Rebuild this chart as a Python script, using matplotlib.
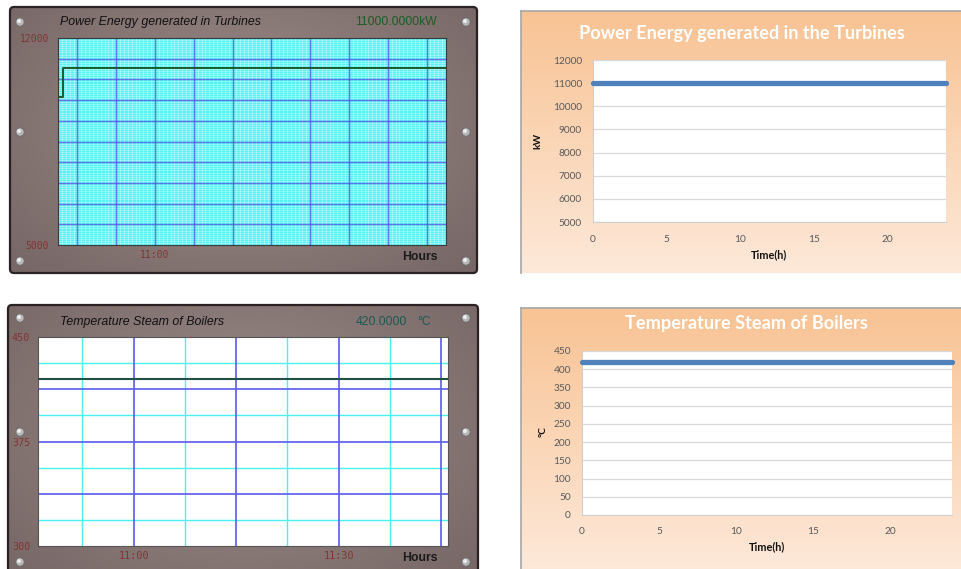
import numpy as np
import matplotlib
matplotlib.use("Agg")
import matplotlib.pyplot as plt
from matplotlib.patches import FancyBboxPatch, Circle

W, H = 962, 569

# Turbine power recorder (x = minutes after 10:00)
power_minutes = [47.5, 48.2, 97.5]
power_kw = [10000, 11000, 11000]

# Boiler steam temperature recorder (x = minutes after 10:00)
steam_minutes = [46.0, 106.0]
steam_c = [420, 420]

# Daily trend charts
trend_hours = [0, 24]
trend_power_kw = [11000, 11000]
trend_steam_c = [420, 420]

power_yticks = [5000, 12000]
power_xticks = [60]
power_xlabels = ["11:00"]
steam_yticks = [300, 375, 450]
steam_xticks = [60, 90]
steam_xlabels = ["11:00", "11:30"]
trend_xticks = [0, 5, 10, 15, 20]
trend_power_yticks = list(range(5000, 12001, 1000))
trend_steam_yticks = list(range(0, 451, 50))

fig = plt.figure(figsize=(W / 100, H / 100), dpi=100)
fig.patch.set_facecolor("white")

bg = fig.add_axes([0, 0, 1, 1], zorder=0)
bg.set_xlim(0, W)
bg.set_ylim(H, 0)
bg.axis("off")


def px_axes(x0, y0, x1, y1):
    return fig.add_axes([x0 / W, 1 - y1 / H, (x1 - x0) / W, (y1 - y0) / H], zorder=2)


def monitor_frame(x0, y0, x1, y1):
    patch = FancyBboxPatch((x0, y0), x1 - x0, y1 - y0,
                           boxstyle="round,pad=0,rounding_size=4",
                           fc="none", ec="#2a2222", lw=1.6, zorder=3)
    bg.add_patch(patch)
    yy, xx = np.mgrid[0:1:120j, 0:1:200j]
    r = np.clip(np.sqrt(((xx - 0.5) / 0.65) ** 2 + ((yy - 0.45) / 0.75) ** 2), 0, 1)
    c_in = np.array([0.615, 0.55, 0.54])
    c_out = np.array([0.47, 0.41, 0.405])
    rgb = c_in[None, None, :] * (1 - r[..., None]) + c_out[None, None, :] * r[..., None]
    im = bg.imshow(rgb, extent=(x0, x1, y1, y0), zorder=1,
                   interpolation="bilinear", aspect="auto")
    im.set_clip_path(patch)


def screw(x, y):
    bg.add_patch(Circle((x, y), 4.2, fc="#b8b8b8", ec="#6a6a6a", lw=0.6, zorder=4))
    bg.add_patch(Circle((x - 1.0, y - 1.0), 2.0, fc="#ececec", ec="none", zorder=5))


def trend_panel(x0, y0, x1, y1):
    grad = np.linspace(0, 1, 100)[:, None]
    c_top = np.array([0.973, 0.765, 0.580])
    c_bot = np.array([0.992, 0.910, 0.850])
    rgb = c_top[None, None, :] * (1 - grad[..., None]) + c_bot[None, None, :] * grad[..., None]
    rgb = np.repeat(rgb, 2, axis=1)
    bg.imshow(rgb, extent=(x0, x1, y1, y0), zorder=1,
              interpolation="bilinear", aspect="auto")
    bg.plot([x0, x0], [y1, y0], color="#a6a6a6", lw=1.2, zorder=2)
    bg.plot([x0, x1], [y0, y0], color="#a6a6a6", lw=1.2, zorder=2)


# ---------- recorder frames ----------
monitor_frame(10, 7, 477, 273)
monitor_frame(8, 305, 478, 580)
trend_panel(521, 11, W, 273)
trend_panel(521, 308, W, H)
bg.set_xlim(0, W)
bg.set_ylim(H, 0)

for sx in (20, 466):
    for sy in (22, 132, 261, 318, 432, 562):
        screw(sx, sy)

mono = "DejaVu Sans Mono"
tick_red = "#823434"

# ---------- turbine power recorder ----------
ax1 = px_axes(58, 38, 446, 245)
ax1.set_facecolor("#58f0f0")
ax1.set_xlim(47.5, 97.5)
ax1.set_ylim(5000, 12000)
for xv in np.arange(47.5, 97.6, 0.5):
    ax1.axvline(xv, color="#c6ffff", lw=0.5, alpha=0.7, zorder=1)
for yv in np.arange(5000, 12001, 70):
    ax1.axhline(yv, color="#c6ffff", lw=0.5, alpha=0.7, zorder=1)
for xv in range(50, 96, 5):
    ax1.axvline(xv, color="#5555e6", lw=1.0, alpha=0.8, zorder=2)
for yv in range(5700, 11301, 700):
    ax1.axhline(yv, color="#5555e6", lw=1.0, alpha=0.8, zorder=2)
ax1.plot(power_minutes, power_kw, drawstyle="steps-post", color="#1d5a2c", lw=1.4, zorder=3)
ax1.set_yticks(power_yticks)
ax1.set_yticklabels([str(v) for v in power_yticks])
ax1.set_xticks(power_xticks)
ax1.set_xticklabels(power_xlabels)
ax1.tick_params(length=0, colors=tick_red, labelsize=7)
ax1.tick_params(axis="y", pad=6.5)
ax1.tick_params(axis="x", pad=3.5)
for lab in ax1.get_xticklabels() + ax1.get_yticklabels():
    lab.set_family(mono)
for sp in ax1.spines.values():
    sp.set_color("#3a3a3a")
    sp.set_linewidth(0.8)

bg.text(60, 22, "Power Energy generated in Turbines", fontsize=8.9, style="italic",
        family="Liberation Sans", color="#111111", ha="left", va="center", zorder=6)
bg.text(437, 22, f"{power_kw[-1]:.4f}kW", fontsize=8.7, family="Liberation Sans",
        color="#1e5c22", ha="right", va="center", zorder=6)
bg.text(420, 257, "Hours", fontsize=8.8, fontweight="bold", family="Liberation Sans",
        color="#1a1a1a", ha="center", va="center", zorder=6)

# ---------- steam temperature recorder ----------
ax3 = px_axes(38, 337, 448, 546)
ax3.set_facecolor("white")
ax3.set_xlim(46, 106)
ax3.set_ylim(300, 450)
for xv in (52.5, 67.5, 82.5, 97.5):
    ax3.axvline(xv, color="#48f2f2", lw=1.0, zorder=1)
for xv in (60, 75, 90, 105):
    ax3.axvline(xv, color="#5a5af0", lw=1.2, zorder=2)
for yv in (318.75, 356.25, 393.75, 431.25):
    ax3.axhline(yv, color="#48f2f2", lw=1.0, zorder=1)
for yv in (337.5, 375, 412.5):
    ax3.axhline(yv, color="#5a5af0", lw=1.2, zorder=2)
ax3.plot(steam_minutes, steam_c, color="#1f4f45", lw=1.5, zorder=3)
ax3.set_yticks(steam_yticks)
ax3.set_yticklabels([str(v) for v in steam_yticks])
ax3.set_xticks(steam_xticks)
ax3.set_xticklabels(steam_xlabels)
ax3.tick_params(length=0, colors=tick_red, labelsize=7.3)
ax3.tick_params(axis="y", pad=5.5)
ax3.tick_params(axis="x", pad=3.5)
for lab in ax3.get_xticklabels() + ax3.get_yticklabels():
    lab.set_family(mono)
for sp in ax3.spines.values():
    sp.set_color("#555555")
    sp.set_linewidth(0.8)

bg.text(60, 322, "Temperature Steam of Boilers", fontsize=8.9, style="italic",
        family="Liberation Sans", color="#111111", ha="left", va="center", zorder=6)
bg.text(407, 322, f"{steam_c[-1]:.4f}", fontsize=8.7, family="Liberation Sans",
        color="#1a5a52", ha="right", va="center", zorder=6)
bg.text(424, 322, "°C", fontsize=8.7, family="Liberation Sans",
        color="#1a5a52", ha="center", va="center", zorder=6)
bg.text(420, 558, "Hours", fontsize=8.8, fontweight="bold", family="Liberation Sans",
        color="#1a1a1a", ha="center", va="center", zorder=6)

# ---------- daily trend charts ----------
excel_font = "Lato"


def style_trend(ax, yticks, ymin, ymax):
    ax.set_facecolor("white")
    ax.set_xlim(0, 24)
    ax.set_ylim(ymin, ymax)
    ax.set_xticks(trend_xticks)
    ax.set_yticks(yticks)
    ax.yaxis.grid(True, color="#d9d9d9", lw=0.9)
    ax.set_axisbelow(True)
    ax.tick_params(length=0, colors="#595959", labelsize=7.3)
    ax.tick_params(axis="y", pad=8)
    ax.tick_params(axis="x", pad=9)
    for lab in ax.get_xticklabels() + ax.get_yticklabels():
        lab.set_family(excel_font)
    for name, sp in ax.spines.items():
        sp.set_visible(name in ("left", "bottom"))
        sp.set_color("#cfcfcf")
        sp.set_linewidth(0.8)


ax2 = px_axes(593, 60, 946, 222)
style_trend(ax2, trend_power_yticks, 5000, 12000)
ax2.plot(trend_hours, trend_power_kw, color="#4f81bd", lw=3.8,
         solid_capstyle="round", clip_on=False, zorder=3)
bg.text(742, 33, "Power Energy generated in the Turbines", fontsize=13.1,
        fontweight="bold", family=excel_font, color="white",
        ha="center", va="center", zorder=6)
bg.text(538, 141, "kW", rotation=90, fontsize=7.3, fontweight="bold",
        family=excel_font, color="#111111", ha="center", va="center", zorder=6)
bg.text(769, 255, "Time(h)", fontsize=7.8, fontweight="bold",
        family=excel_font, color="#111111", ha="center", va="center", zorder=6)

ax4 = px_axes(582, 351, 952, 515)
style_trend(ax4, trend_steam_yticks, 0, 450)
ax4.plot(trend_hours, trend_steam_c, color="#4f81bd", lw=3.8,
         solid_capstyle="round", clip_on=False, zorder=3)
bg.text(746, 323, "Temperature Steam of Boilers", fontsize=13.1,
        fontweight="bold", family=excel_font, color="white",
        ha="center", va="center", zorder=6)
bg.text(543, 432, "°C", rotation=90, fontsize=7.3, fontweight="bold",
        family=excel_font, color="#111111", ha="center", va="center", zorder=6)
bg.text(767, 547, "Time(h)", fontsize=7.8, fontweight="bold",
        family=excel_font, color="#111111", ha="center", va="center", zorder=6)

fig.savefig("out.png", dpi=100)
